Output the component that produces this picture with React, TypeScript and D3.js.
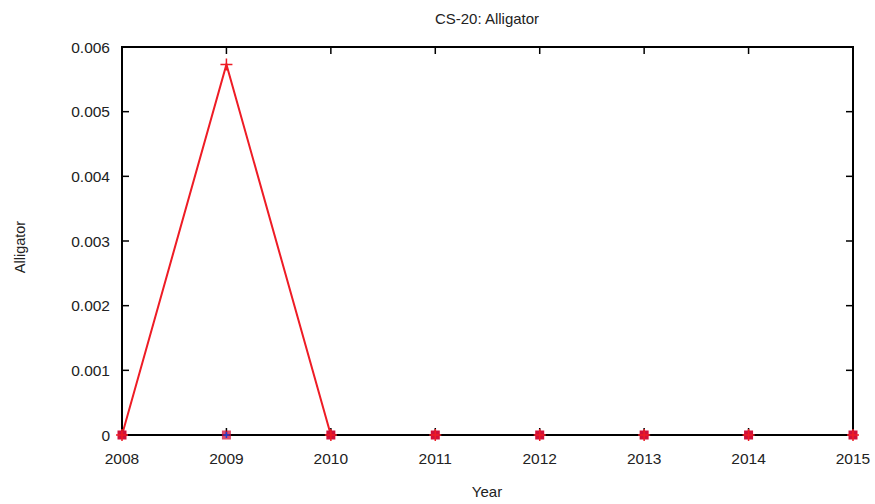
import React from "react";
import * as d3 from "d3";

const years = [2008, 2009, 2010, 2011, 2012, 2013, 2014, 2015];
const redValues = [0, 0.00573, 0, 0, 0, 0, 0, 0];
const squareValues = [0, 0, 0, 0, 0, 0, 0, 0];
const blueValues = [0, 0, 0, 0, 0, 0, 0, 0];
const yTicks = [0, 0.001, 0.002, 0.003, 0.004, 0.005, 0.006];
const yTickLabels = ["0", "0.001", "0.002", "0.003", "0.004", "0.005", "0.006"];

const W = 875, H = 504;
const m = { left: 122, right: 22, top: 47, bottom: 69 };

export default function App() {
  const x = d3.scaleLinear().domain([2008, 2015]).range([m.left, W - m.right]);
  const y = d3.scaleLinear().domain([0, 0.006]).range([H - m.bottom, m.top]);
  const line = d3.line<number>().x((_, i) => x(years[i])).y((d) => y(d));
  const font = "'Liberation Sans', Arial, sans-serif";
  const tl = 7;
  return (
    <svg width={W} height={H} style={{ position: "absolute", left: 0, top: 0, background: "#fff" }}>
      <text x={487} y={24} textAnchor="middle" fontFamily={font} fontSize={15} fill="#222">CS-20: Alligator</text>
      {/* red line */}
      <path d={line(redValues) || ""} fill="none" stroke="#ee1c25" strokeWidth={2} />
      {/* ticks */}
      {years.map((yr) => (
        <g key={yr}>
          <line x1={x(yr)} x2={x(yr)} y1={y(0)} y2={y(0) - tl} stroke="#000" strokeWidth={1.5} />
          <line x1={x(yr)} x2={x(yr)} y1={m.top} y2={m.top + tl} stroke="#000" strokeWidth={1.5} />
          <text x={x(yr)} y={464} textAnchor="middle" fontFamily={font} fontSize={15.5} fill="#222">{yr}</text>
        </g>
      ))}
      {yTicks.map((t, i) => (
        <g key={t}>
          <line x1={m.left} x2={m.left + tl} y1={y(t)} y2={y(t)} stroke="#000" strokeWidth={1.5} />
          <line x1={W - m.right} x2={W - m.right - tl} y1={y(t)} y2={y(t)} stroke="#000" strokeWidth={1.5} />
          <text x={110} y={y(t) + 5.5} textAnchor="end" fontFamily={font} fontSize={15.5} fill="#222">{yTickLabels[i]}</text>
        </g>
      ))}
      <rect x={m.left} y={m.top} width={W - m.left - m.right} height={H - m.top - m.bottom} fill="none" stroke="#000" strokeWidth={2} />
      <text x={487} y={497} textAnchor="middle" fontFamily={font} fontSize={15} fill="#222">Year</text>
      <text transform={`translate(25,247) rotate(-90)`} textAnchor="middle" fontFamily={font} fontSize={14.5} fill="#222">Alligator</text>
      {/* red squares series */}
      {squareValues.map((v, i) => (
        <rect key={"s" + i} x={x(years[i]) - 4.5} y={y(v) - 4.5} width={9} height={9} fill="#d0103a" opacity={i === 1 ? 0.75 : 1} />
      ))}
      {/* red plus markers */}
      {redValues.map((v, i) => (
        <path key={"r" + i} d={`M${x(years[i]) - 6},${y(v)}L${x(years[i]) + 6},${y(v)}M${x(years[i])},${y(v) - 6}L${x(years[i])},${y(v) + 6}`} stroke="#ee1c25" strokeWidth={1.5} />
      ))}
      {/* blue series markers (all zero) */}
      {blueValues.map((v, i) => (i === 1 ? (
        <path key={"b" + i} d={`M${x(years[i]) - 3},${y(v)}L${x(years[i]) + 3},${y(v)}M${x(years[i])},${y(v) - 3}L${x(years[i])},${y(v) + 3}`} stroke="#1f3fd0" strokeWidth={1.5} />
      ) : null))}
    </svg>
  );
}
